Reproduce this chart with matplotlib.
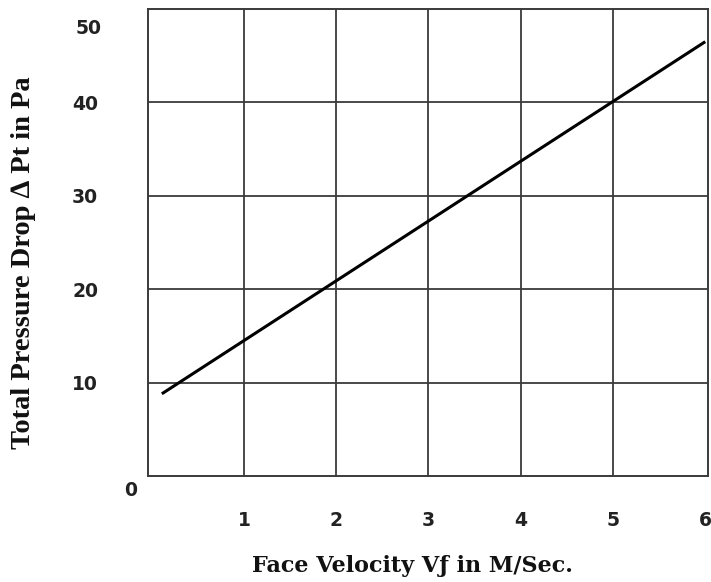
import matplotlib
matplotlib.use("Agg")
import matplotlib.pyplot as plt

# data
velocity = [0.11, 6.0]          # Face velocity (m/s)
pressure = [8.8, 46.5]          # Total pressure drop (Pa)
x_ticks = [1, 2, 3, 4, 5, 6]
x_tick_labels = ["1", "2", "3", "4", "5", "6"]
y_ticks = [10, 20, 30, 40]
y_tick_labels = ["10", "20", "30", "40"]
x_label = "Face Velocity Vƒ in M/Sec."
y_label = "Total Pressure Drop ∆ Pt in Pa"

plt.rcParams['font.family'] = ["DejaVu Sans"]

fig = plt.figure(figsize=(7.11, 5.82), dpi=100)
ax = fig.add_axes([148/711, (582-476)/582, (708-148)/711, (476-9)/582])
ax.set_xlim(-0.04, 6.03)
ax.set_ylim(0, 50)

ax.plot(velocity, pressure, color="black", lw=2.2, solid_capstyle="butt", zorder=3)

for x in [1, 2, 3, 4, 5]:
    ax.axvline(x, color="#3a3a3a", lw=1.3, zorder=1)
for y in [10, 20, 30, 40]:
    ax.axhline(y, color="#3a3a3a", lw=1.3, zorder=1)
for s in ax.spines.values():
    s.set_color("#3a3a3a")
    s.set_linewidth(1.4)

tick_kw = dict(fontsize=13.5, fontweight="bold", color="#222222")
ax.set_xticks(x_ticks)
ax.set_xticklabels(x_tick_labels, **tick_kw)
ax.set_yticks(y_ticks)
ax.set_yticklabels(y_tick_labels, **tick_kw)
ax.tick_params(axis="x", length=0, pad=25)
ax.tick_params(axis="y", length=0, pad=36)

ax.text(-0.54, 47.9, "50", ha="right", va="center", clip_on=False, **tick_kw)
ax.text(-0.23, -1.6, "0", ha="center", va="center", clip_on=False, **tick_kw)

fig.text(412/711, 1 - 566/582, x_label, fontsize=16, fontweight="bold",
         family=["DejaVu Serif"], ha="center", va="center", color="#111111")
fig.text(24/711, 1 - 263/582, y_label, fontsize=20.5, fontweight="bold",
         family=["Liberation Serif", "DejaVu Sans"],
         rotation=90, ha="center", va="center", color="#111111")

fig.savefig("out.png", dpi=100)
